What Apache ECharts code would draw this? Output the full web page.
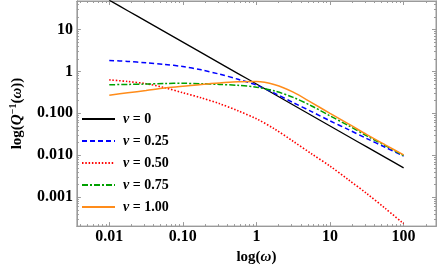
<!DOCTYPE html>
<html>
<head>
<meta charset="utf-8">
<script src="https://cdn.jsdelivr.net/npm/echarts@6/dist/echarts.min.js"></script>
<style>html,body{margin:0;padding:0;background:#fff}#c{width:438px;height:270px}</style>
</head>
<body>
<div id="c"></div>
<script>
// angular frequency samples (quarter decades)
const omega = [0.01, 0.0178, 0.0316, 0.0562, 0.1, 0.178, 0.316, 0.562, 1, 1.78, 3.16, 5.62, 10, 17.8, 31.6, 56.2, 100];
// Q^-1 values
const qNu000 = [50, 28.1, 15.8, 8.89, 5, 2.81, 1.58, 0.889, 0.5, 0.281, 0.158, 0.0889, 0.05, 0.0281, 0.0158, 0.00889, 0.005];
const qNu025 = [1.83, 1.73, 1.61, 1.47, 1.31, 1.09, 0.86, 0.65, 0.47, 0.30, 0.18, 0.11, 0.066, 0.041, 0.025, 0.0155, 0.0095];
const qNu050 = [0.63, 0.575, 0.51, 0.41, 0.31, 0.234, 0.17, 0.115, 0.074, 0.042, 0.0215, 0.0108, 0.0055, 0.0026, 0.00122, 0.00054, 0.000234];
const qNu075 = [0.48, 0.49, 0.50, 0.515, 0.52, 0.51, 0.49, 0.465, 0.42, 0.34, 0.24, 0.15, 0.087, 0.051, 0.029, 0.017, 0.0098];
const qNu100 = [0.27, 0.31, 0.35, 0.40, 0.44, 0.49, 0.53, 0.57, 0.575, 0.48, 0.32, 0.18, 0.10, 0.056, 0.031, 0.0177, 0.0102];
const seriesNames = ['ν = 0', 'ν = 0.25', 'ν = 0.50', 'ν = 0.75', 'ν = 1.00'];
// tick labels
const xTickValues = [0.01, 0.1, 1, 10, 100];
const xTickLabels = ['0.01', '0.10', '1', '10', '100'];
const yTickValues = [0.001, 0.01, 0.1, 1, 10];
const yTickLabels = ['0.001', '0.010', '0.100', '1', '10'];

const L = Math.log10;
const X_MIN = -2.44, X_MAX = 2.44, Y_MIN = -3.69, Y_MAX = 1.68;
function minorLogs(lo, hi) {
  const out = [];
  for (let n = -5; n <= 3; n++) for (let k = 2; k <= 9; k++) {
    const v = L(k) + n;
    if (v > lo && v < hi) out.push(v);
  }
  return out;
}
const xMajor = xTickValues.map(L), yMajor = yTickValues.map(L);
const xMinor = minorLogs(X_MIN, X_MAX), yMinor = minorLogs(Y_MIN, Y_MAX);
const fmt = (vals, labels) => v => {
  for (let i = 0; i < vals.length; i++) if (Math.abs(L(vals[i]) - v) < 1e-6) return labels[i];
  return '';
};
const gray = '#9a9a9a';
const labelFont = { fontFamily: 'Liberation Serif', fontWeight: 'bold', fontSize: 16, color: '#000' };

function xAx(pos, ticks, len, labels) {
  return {
    type: 'value', position: pos, min: X_MIN, max: X_MAX,
    axisLine: { show: true, onZero: false, lineStyle: { color: gray, width: 1 } },
    splitLine: { show: false },
    axisTick: { show: true, inside: true, length: len, customValues: ticks, lineStyle: { color: gray, width: 1 } },
    axisLabel: labels ? Object.assign({ show: true, margin: 3, customValues: xMajor, formatter: fmt(xTickValues, xTickLabels) }, labelFont) : { show: false }
  };
}
function yAx(pos, ticks, len, labels) {
  return {
    type: 'value', position: pos, min: Y_MIN, max: Y_MAX,
    axisLine: { show: true, onZero: false, lineStyle: { color: gray, width: 1 } },
    splitLine: { show: false },
    axisTick: { show: true, inside: true, length: len, customValues: ticks, lineStyle: { color: gray, width: 1 } },
    axisLabel: labels ? Object.assign({ show: true, margin: 4, customValues: yMajor, formatter: fmt(yTickValues, yTickLabels) }, labelFont) : { show: false }
  };
}
const xAxes = [xAx('bottom', xMajor, 4, true), xAx('bottom', xMinor, 2, false), xAx('top', xMajor, 4, false), xAx('top', xMinor, 2, false)];
const yAxes = [yAx('left', yMajor, 4, true), yAx('left', yMinor, 2, false), yAx('right', yMajor, 4, false), yAx('right', yMinor, 2, false)];
Object.assign(xAxes[0], {
  name: '{b|log(}{i|ω}{b|)}', nameLocation: 'middle', nameGap: 23,
  nameTextStyle: { rich: {
    b: { fontFamily: 'Liberation Serif', fontWeight: 'bold', fontSize: 15, color: '#000' },
    i: { fontFamily: 'Liberation Serif', fontWeight: 'bold', fontStyle: 'italic', fontSize: 15, color: '#000' } } }
});
Object.assign(yAxes[0], {
  name: '{b|log(}{i|Q}{s|−1}{b|(}{i|ω}{b|))}', nameLocation: 'middle', nameGap: 51,
  nameTextStyle: { rich: {
    b: { fontFamily: 'Liberation Serif', fontWeight: 'bold', fontSize: 15, color: '#000', lineHeight: 17, verticalAlign: 'bottom' },
    i: { fontFamily: 'Liberation Serif', fontWeight: 'bold', fontStyle: 'italic', fontSize: 15, color: '#000', lineHeight: 17, verticalAlign: 'bottom' },
    s: { fontFamily: 'Liberation Serif', fontWeight: 'bold', fontSize: 10, color: '#000', lineHeight: 17, verticalAlign: 'top', padding: [0, 0, 8, 0] } } }
});

const data = [qNu000, qNu025, qNu050, qNu075, qNu100];
const colors = ['#000000', '#0000ff', '#ff0000', '#00a000', '#ff8c1a'];
const dashes = ['solid', [5, 3], [1.5, 1.8], [6, 2, 2, 2], 'solid'];
const widths = [1.3, 1.5, 1.6, 1.5, 1.5];

const chart = echarts.init(document.getElementById('c'), null, { renderer: 'canvas' });
chart.setOption({
  animation: false,
  grid: { left: 71, right: 2, top: 1, bottom: 43, show: true, borderColor: gray, borderWidth: 1 },
  xAxis: xAxes,
  yAxis: yAxes,
  legend: {
    orient: 'vertical', left: 76, top: 107, itemWidth: 33, itemHeight: 14, itemGap: 8,
    data: seriesNames,
    itemStyle: { opacity: 0 },
    formatter: n => '{i|ν}{b|' + n.slice(1) + '}',
    textStyle: { padding: [0, 0, 0, 3], rich: {
      i: { fontFamily: 'Liberation Serif', fontStyle: 'italic', fontWeight: 'bold', fontSize: 14, color: '#000' },
      b: { fontFamily: 'Liberation Serif', fontWeight: 'bold', fontSize: 14, color: '#000' } } }
  },
  series: data.map((arr, i) => ({
    name: seriesNames[i], type: 'line', symbol: 'none', smooth: 0.3,
    xAxisIndex: 0, yAxisIndex: 0,
    color: colors[i],
    lineStyle: { color: colors[i], width: widths[i], type: dashes[i] },
    data: omega.map((w, j) => [L(w), L(arr[j])])
  }))
});
</script>
</body>
</html>
